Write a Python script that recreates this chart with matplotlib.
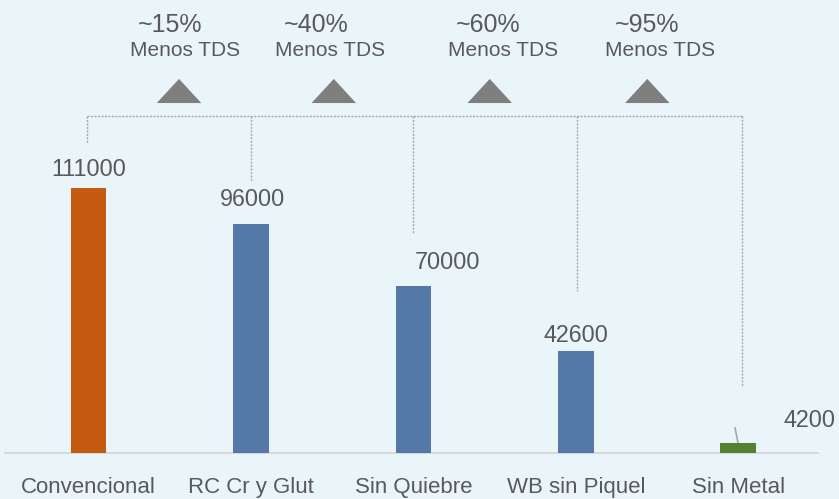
import matplotlib
matplotlib.use("Agg")
import matplotlib.pyplot as plt
from matplotlib.patches import Polygon

plt.rcParams['font.family'] = ['Liberation Sans', 'DejaVu Sans']

# data
categories = ["Convencional", "RC Cr y Glut", "Sin Quiebre", "WB sin Piquel", "Sin Metal"]
values = [111000, 96000, 70000, 42600, 4200]
bar_colors = ["#C55A11", "#5579A6", "#5579A6", "#5579A6", "#538135"]
pct_labels = ["~15%", "~40%", "~60%", "~95%"]
sub_label = "Menos TDS"

bg = "#EAF5FA"
txt = "#595959"
dash = "#A6A6A6"

fig = plt.figure(figsize=(8.39, 4.99), dpi=100)
fig.patch.set_facecolor(bg)
ax = fig.add_axes([0.006, 0.0922, 0.969, 0.9078])
ax.set_facecolor(bg)

x = list(range(len(categories)))
ax.bar(x, values, width=0.22, color=bar_colors, zorder=3)

ax.set_xlim(-0.514, 4.491)
ax.set_ylim(0, 189760)

# value labels
lbl_pos = [(0.0, 118550), (1.01, 106000), (2.21, 80000), (3.0, 49400), (4.44, 13800)]
for v, (lx, ly) in zip(values, lbl_pos):
    ax.text(lx, ly, str(v), ha="center", va="center", fontsize=16.8, color=txt)
# leader line for small bar
ax.plot([3.98, 4.0], [10500, 3800], color="#A6A6A6", lw=1.2)

# dashed connector bracket
top_y = 141200
ax.plot([-0.01, 4.02], [top_y, top_y], ls=(0, (1.5, 1)), color=dash, lw=1)
drop_ends = [129400, 113900, 92200, 67900, 27600]
drop_x = [-0.01, 1.0, 2.0, 3.01, 4.02]
for dx, de in zip(drop_x, drop_ends):
    ax.plot([dx, dx], [top_y, de], ls=(0, (1.5, 1)), color=dash, lw=1)

# triangles and reduction labels
tri_x = [0.557, 1.51, 2.47, 3.44]
pct_x = [0.50, 1.40, 2.46, 3.44]
sub_x = [0.594, 1.49, 2.55, 3.52]
for tx, px, sx, p in zip(tri_x, pct_x, sub_x, pct_labels):
    ax.add_patch(Polygon([[tx - 0.137, 146600], [tx + 0.137, 146600], [tx, 156700]],
                         closed=True, color="#7F7F7F", lw=0))
    ax.text(px, 179300, p, ha="center", va="center", fontsize=18, color=txt)
    ax.text(sx, 168400, sub_label, ha="center", va="center", fontsize=15, color=txt)

ax.set_xticks(x)
ax.set_xticklabels(categories, fontsize=16, color=txt)
ax.tick_params(axis="x", length=0, pad=17)
ax.set_yticks([])
for s in ["top", "left", "right"]:
    ax.spines[s].set_visible(False)
ax.spines["bottom"].set_color("#D9D9D9")
ax.spines["bottom"].set_linewidth(1.5)

fig.savefig("out.png", dpi=100, facecolor=bg)
